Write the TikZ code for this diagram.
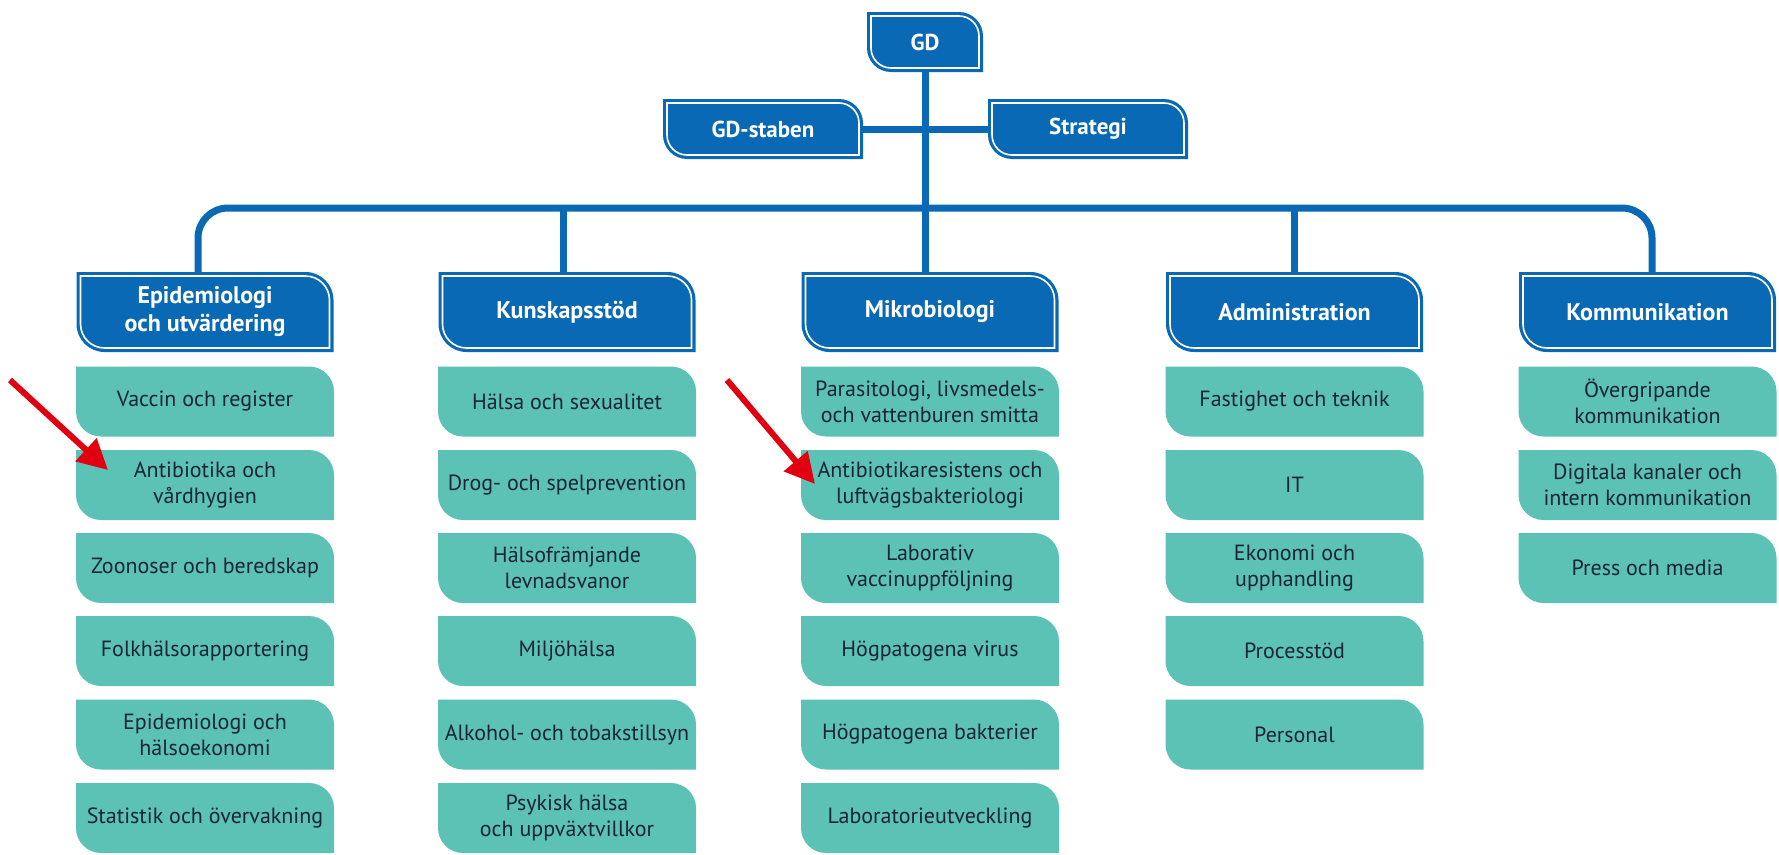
\documentclass[tikz,border=0pt]{standalone}
\usepackage{fontspec}
\setmainfont{PT Sans}
\newfontfamily\tealfont{PT Sans}
\usetikzlibrary{arrows.meta}
\definecolor{fhmblue}{HTML}{0A69B4}
\definecolor{fhmteal}{HTML}{5CC2B6}
\definecolor{fhmtext}{HTML}{1A2535}
\definecolor{fhmred}{HTML}{E1000F}
\newcommand{\lrshape}[2]{%
 ([shift={(#1,-#1)}]path picture bounding box.north west) -- ([shift={(-#1-#2,-#1)}]path picture bounding box.north east) arc[start angle=90,end angle=0,radius=#2] -- ([shift={(-#1,#1)}]path picture bounding box.south east) -- ([shift={(#1+#2,#1)}]path picture bounding box.south west) arc[start angle=270,end angle=180,radius=#2] -- cycle}
\tikzset{
 subbox/.style={rectangle, minimum width=258pt, minimum height=70pt, inner sep=0pt, align=center,
   font=\tealfont\fontsize{22}{26}\selectfont, text=fhmtext,
   path picture={\fill[fhmteal] \lrshape{0pt}{25pt};}},
 headbox/.style={rectangle, minimum width=257pt, minimum height=80pt, inner sep=0pt, align=center,
   font=\bfseries\fontsize{24}{28}\selectfont, text=white,
   path picture={\fill[fhmblue] \lrshape{0pt}{28pt}; \draw[white, line width=1.6pt] \lrshape{4pt}{24pt};}},
 topbox/.style={rectangle, minimum width=200pt, minimum height=60pt, inner sep=0pt, align=center,
   font=\bfseries\fontsize{23}{27}\selectfont, text=white,
   path picture={\fill[fhmblue] \lrshape{0pt}{24pt}; \draw[white, line width=1.6pt] \lrshape{4pt}{20pt};}},
 conn/.style={draw=fhmblue, line width=7pt},
 redarrow/.style={draw=fhmred, line width=6pt, -{Triangle[length=30pt,width=30pt]}},
}
\begin{document}
\begin{tikzpicture}[x=1pt,y=-1pt]
\fill[white] (0,0) rectangle (1779,854);
\useasboundingbox (0,0) rectangle (1779,854);

% top level
\node[topbox, minimum width=116pt] (gd) at (925,42) {GD};
\node[topbox] (gdstaben) at (763,129) {GD-staben};
\node[topbox] (strategi) at (1088,129) {Strategi};

% headers
\node[headbox] (epi) at (205,312) {Epidemiologi\\och utvärdering};
\node[headbox] (kunskap) at (567,312) {Kunskapsstöd};
\node[headbox] (mikro) at (930,312) {Mikrobiologi};
\node[headbox] (admin) at (1294.5,312) {Administration};
\node[headbox] (komm) at (1647.5,312) {Kommunikation};

% Epidemiologi column
\node[subbox] (e1) at (205,401.5) {Vaccin och register};
\node[subbox] (e2) at (205,485) {Antibiotika och\\vårdhygien};
\node[subbox] (e3) at (205,568) {Zoonoser och beredskap};
\node[subbox] (e4) at (205,651) {Folkhälsorapportering};
\node[subbox] (e5) at (205,734.5) {Epidemiologi och\\hälsoekonomi};
\node[subbox] (e6) at (205,818) {Statistik och övervakning};

% Kunskapsstöd column
\node[subbox] (k1) at (567,401.5) {Hälsa och sexualitet};
\node[subbox] (k2) at (567,485) {Drog- och spelprevention};
\node[subbox] (k3) at (567,568) {Hälsofrämjande\\levnadsvanor};
\node[subbox] (k4) at (567,651) {Miljöhälsa};
\node[subbox] (k5) at (567,734.5) {Alkohol- och tobakstillsyn};
\node[subbox] (k6) at (567,818) {Psykisk hälsa\\och uppväxtvillkor};

% Mikrobiologi column
\node[subbox] (m1) at (930,401.5) {Parasitologi, livsmedels-\\och vattenburen smitta};
\node[subbox] (m2) at (930,485) {Antibiotikaresistens och\\luftvägsbakteriologi};
\node[subbox] (m3) at (930,568) {Laborativ\\vaccinuppföljning};
\node[subbox] (m4) at (930,651) {Högpatogena virus};
\node[subbox] (m5) at (930,734.5) {Högpatogena bakterier};
\node[subbox] (m6) at (930,818) {Laboratorieutveckling};

% Administration column
\node[subbox] (a1) at (1294.5,401.5) {Fastighet och teknik};
\node[subbox] (a2) at (1294.5,485) {IT};
\node[subbox] (a3) at (1294.5,568) {Ekonomi och\\upphandling};
\node[subbox] (a4) at (1294.5,651) {Processtöd};
\node[subbox] (a5) at (1294.5,734.5) {Personal};

% Kommunikation column
\node[subbox] (c1) at (1647.5,401.5) {Övergripande\\kommunikation};
\node[subbox] (c2) at (1647.5,485) {Digitala kanaler och\\intern kommunikation};
\node[subbox] (c3) at (1647.5,568) {Press och media};

% connectors
\coordinate (bus) at (925,208);
\draw[conn] (gdstaben.east) -- (strategi.west);
\draw[conn] (gd.south) -- (gd.south |- mikro.north);
\draw[conn, rounded corners=30pt] ([xshift=-7pt]epi.north) |- (bus) -| ([xshift=4.5pt]komm.north);
\coordinate (kd) at ([xshift=-4pt]kunskap.north);
\draw[conn] (kd) -- (kd |- bus);
\draw[conn] (admin.north) -- (admin.north |- bus);

% red arrows
\coordinate (r1s) at (10,380);
\coordinate (r1e) at (108,470);
\coordinate (r2s) at (727,380);
\coordinate (r2e) at (815,484);
\draw[redarrow] (r1s) -- (r1e);
\draw[redarrow] (r2s) -- (r2e);
\end{tikzpicture}
\end{document}
